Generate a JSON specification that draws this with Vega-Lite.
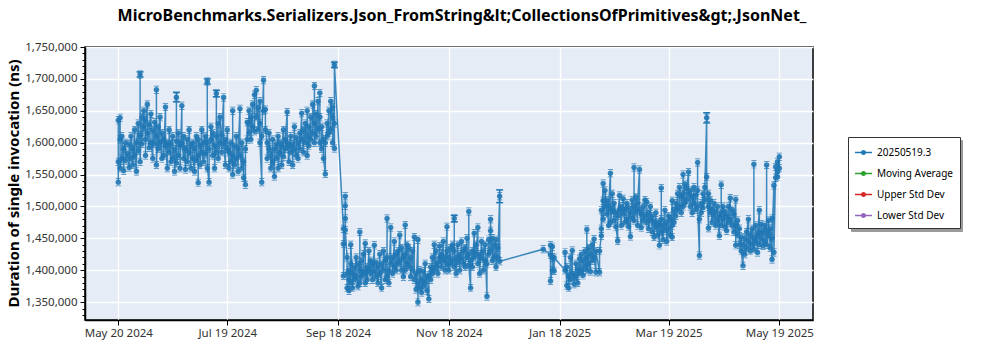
{
"$schema": "https://vega.github.io/schema/vega-lite/v6.json",
"width": 728, "height": 273,
"autosize": {"type": "none"},
"padding": {"left": 85, "top": 47, "right": 187, "bottom": 30},
"background": "white",
"title": {"text": "MicroBenchmarks.Serializers.Json_FromString&lt;CollectionsOfPrimitives&gt;.JsonNet_", "font": "Noto Sans", "fontSize": 16, "fontWeight": "bold", "color": "#000", "anchor": "middle", "dx": 13, "offset": 17},
"config": {"view": {"fill": "#e5ecf6", "stroke": "#000", "strokeWidth": 1.5}, "font": "Noto Sans"},
"data": {"values": [
{"t":"2024-05-20","v":1538000},{"t":"2024-05-20","v":1570000},{"t":"2024-05-20","v":1635000},
{"t":"2024-05-21","v":1605000},{"t":"2024-05-21","v":1639000},{"t":"2024-05-21","v":1560000},
{"t":"2024-05-22","v":1575000},{"t":"2024-05-22","v":1610000},
{"t":"2024-05-23","v":1556000},{"t":"2024-05-23","v":1590000},
{"t":"2024-05-24","v":1600000},{"t":"2024-05-24","v":1572000},
{"t":"2024-05-25","v":1583000},
{"t":"2024-05-26","v":1561000},{"t":"2024-05-26","v":1598000},
{"t":"2024-05-27","v":1575000},{"t":"2024-05-27","v":1610000},
{"t":"2024-05-28","v":1590000},{"t":"2024-05-28","v":1565000},
{"t":"2024-05-29","v":1620000},{"t":"2024-05-29","v":1580000},
{"t":"2024-05-30","v":1555000},{"t":"2024-05-30","v":1600000},
{"t":"2024-05-31","v":1630000},{"t":"2024-05-31","v":1587000},
{"t":"2024-06-01","v":1612000},{"t":"2024-06-01","v":1707000,"lo":1703000,"hi":1711000},{"t":"2024-06-01","v":1570000},
{"t":"2024-06-02","v":1640000},{"t":"2024-06-02","v":1598000},
{"t":"2024-06-03","v":1625000},{"t":"2024-06-03","v":1650000},
{"t":"2024-06-04","v":1605000},{"t":"2024-06-04","v":1580000},{"t":"2024-06-04","v":1635000},
{"t":"2024-06-05","v":1660000},{"t":"2024-06-05","v":1615000},
{"t":"2024-06-06","v":1592000},{"t":"2024-06-06","v":1628000},
{"t":"2024-06-07","v":1645000},{"t":"2024-06-07","v":1600000},
{"t":"2024-06-08","v":1575000},{"t":"2024-06-08","v":1620000},
{"t":"2024-06-09","v":1598000},{"t":"2024-06-09","v":1632000},
{"t":"2024-06-10","v":1610000},{"t":"2024-06-10","v":1683000},{"t":"2024-06-10","v":1565000},
{"t":"2024-06-11","v":1625000},{"t":"2024-06-11","v":1590000},
{"t":"2024-06-12","v":1640000},{"t":"2024-06-12","v":1600000},
{"t":"2024-06-13","v":1575000},{"t":"2024-06-13","v":1615000},
{"t":"2024-06-14","v":1605000},{"t":"2024-06-14","v":1580000},
{"t":"2024-06-15","v":1656000},{"t":"2024-06-15","v":1595000},
{"t":"2024-06-16","v":1560000},{"t":"2024-06-16","v":1600000},
{"t":"2024-06-17","v":1585000},{"t":"2024-06-17","v":1620000},
{"t":"2024-06-18","v":1570000},{"t":"2024-06-18","v":1598000},
{"t":"2024-06-19","v":1610000},{"t":"2024-06-19","v":1575000},
{"t":"2024-06-20","v":1590000},{"t":"2024-06-20","v":1555000},
{"t":"2024-06-21","v":1602000},{"t":"2024-06-21","v":1671000,"lo":1664000,"hi":1679000},{"t":"2024-06-21","v":1568000},
{"t":"2024-06-22","v":1580000},{"t":"2024-06-22","v":1615000},
{"t":"2024-06-23","v":1595000},{"t":"2024-06-23","v":1560000},
{"t":"2024-06-24","v":1658000},{"t":"2024-06-24","v":1600000},
{"t":"2024-06-25","v":1575000},{"t":"2024-06-25","v":1610000},
{"t":"2024-06-26","v":1558000},{"t":"2024-06-26","v":1590000},
{"t":"2024-06-27","v":1605000},{"t":"2024-06-27","v":1570000},
{"t":"2024-06-28","v":1585000},{"t":"2024-06-28","v":1620000},
{"t":"2024-06-29","v":1560000},{"t":"2024-06-29","v":1595000},
{"t":"2024-06-30","v":1600000},{"t":"2024-06-30","v":1575000},
{"t":"2024-07-01","v":1555000},{"t":"2024-07-01","v":1590000},
{"t":"2024-07-02","v":1610000},{"t":"2024-07-02","v":1572000},
{"t":"2024-07-03","v":1580000},{"t":"2024-07-03","v":1537000},{"t":"2024-07-03","v":1605000},
{"t":"2024-07-04","v":1595000},{"t":"2024-07-04","v":1565000},
{"t":"2024-07-05","v":1620000},{"t":"2024-07-05","v":1585000},
{"t":"2024-07-06","v":1570000},{"t":"2024-07-06","v":1600000},
{"t":"2024-07-07","v":1610000},{"t":"2024-07-07","v":1582000},
{"t":"2024-07-08","v":1600000},{"t":"2024-07-08","v":1696000,"lo":1692000,"hi":1700000},{"t":"2024-07-08","v":1560000},
{"t":"2024-07-09","v":1538000},{"t":"2024-07-09","v":1590000},
{"t":"2024-07-10","v":1605000},{"t":"2024-07-10","v":1625000},
{"t":"2024-07-11","v":1580000},{"t":"2024-07-11","v":1615000},
{"t":"2024-07-12","v":1595000},{"t":"2024-07-12","v":1560000},
{"t":"2024-07-13","v":1610000},{"t":"2024-07-13","v":1677000,"lo":1672000,"hi":1682000},{"t":"2024-07-13","v":1585000},
{"t":"2024-07-14","v":1630000},{"t":"2024-07-14","v":1575000},
{"t":"2024-07-15","v":1600000},{"t":"2024-07-15","v":1640000},
{"t":"2024-07-16","v":1585000},{"t":"2024-07-16","v":1612000},
{"t":"2024-07-17","v":1671000},{"t":"2024-07-17","v":1598000},
{"t":"2024-07-18","v":1565000},{"t":"2024-07-18","v":1605000},
{"t":"2024-07-19","v":1590000},{"t":"2024-07-19","v":1620000},
{"t":"2024-07-20","v":1560000},{"t":"2024-07-20","v":1585000},
{"t":"2024-07-21","v":1600000},{"t":"2024-07-21","v":1570000},
{"t":"2024-07-22","v":1580000},{"t":"2024-07-22","v":1650000},{"t":"2024-07-22","v":1550000},
{"t":"2024-07-23","v":1595000},{"t":"2024-07-23","v":1565000},
{"t":"2024-07-24","v":1575000},{"t":"2024-07-24","v":1610000},
{"t":"2024-07-25","v":1555000},{"t":"2024-07-25","v":1590000},
{"t":"2024-07-26","v":1653000},{"t":"2024-07-26","v":1580000},
{"t":"2024-07-27","v":1560000},{"t":"2024-07-27","v":1600000},
{"t":"2024-07-28","v":1570000},{"t":"2024-07-28","v":1545000},
{"t":"2024-07-29","v":1534000},{"t":"2024-07-29","v":1590000},
{"t":"2024-07-30","v":1605000},{"t":"2024-07-30","v":1632000},
{"t":"2024-07-31","v":1615000},{"t":"2024-07-31","v":1650000},{"t":"2024-07-31","v":1632000},
{"t":"2024-08-01","v":1640000},{"t":"2024-08-01","v":1605000},
{"t":"2024-08-02","v":1660000},{"t":"2024-08-02","v":1625000},
{"t":"2024-08-03","v":1618000},{"t":"2024-08-03","v":1675000},
{"t":"2024-08-04","v":1682000},{"t":"2024-08-04","v":1640000},
{"t":"2024-08-05","v":1655000},{"t":"2024-08-05","v":1620000},
{"t":"2024-08-06","v":1665000},{"t":"2024-08-06","v":1630000},{"t":"2024-08-06","v":1600000},
{"t":"2024-08-07","v":1538000},{"t":"2024-08-07","v":1610000},
{"t":"2024-08-08","v":1698000},{"t":"2024-08-08","v":1650000},
{"t":"2024-08-09","v":1652000},{"t":"2024-08-09","v":1620000},
{"t":"2024-08-10","v":1600000},{"t":"2024-08-10","v":1575000},
{"t":"2024-08-11","v":1590000},{"t":"2024-08-11","v":1615000},
{"t":"2024-08-12","v":1580000},{"t":"2024-08-12","v":1560000},
{"t":"2024-08-13","v":1605000},{"t":"2024-08-13","v":1570000},
{"t":"2024-08-14","v":1547000},{"t":"2024-08-14","v":1590000},
{"t":"2024-08-15","v":1598000},{"t":"2024-08-15","v":1575000},
{"t":"2024-08-16","v":1610000},{"t":"2024-08-16","v":1560000},
{"t":"2024-08-17","v":1585000},{"t":"2024-08-17","v":1600000},
{"t":"2024-08-18","v":1565000},{"t":"2024-08-18","v":1595000},
{"t":"2024-08-19","v":1620000},{"t":"2024-08-19","v":1578000},
{"t":"2024-08-20","v":1590000},{"t":"2024-08-20","v":1605000},
{"t":"2024-08-21","v":1648000},{"t":"2024-08-21","v":1600000},
{"t":"2024-08-22","v":1570000},{"t":"2024-08-22","v":1595000},
{"t":"2024-08-23","v":1610000},{"t":"2024-08-23","v":1585000},
{"t":"2024-08-24","v":1598000},{"t":"2024-08-24","v":1565000},
{"t":"2024-08-25","v":1625000},{"t":"2024-08-25","v":1590000},
{"t":"2024-08-26","v":1580000},{"t":"2024-08-26","v":1608000},
{"t":"2024-08-27","v":1600000},{"t":"2024-08-27","v":1575000},
{"t":"2024-08-28","v":1615000},{"t":"2024-08-28","v":1590000},
{"t":"2024-08-29","v":1646000},{"t":"2024-08-29","v":1605000},
{"t":"2024-08-30","v":1585000},{"t":"2024-08-30","v":1620000},
{"t":"2024-08-31","v":1600000},{"t":"2024-08-31","v":1630000},
{"t":"2024-09-01","v":1610000},{"t":"2024-09-01","v":1650000},{"t":"2024-09-01","v":1580000},
{"t":"2024-09-02","v":1625000},{"t":"2024-09-02","v":1595000},
{"t":"2024-09-03","v":1640000},{"t":"2024-09-03","v":1605000},
{"t":"2024-09-04","v":1615000},{"t":"2024-09-04","v":1660000},
{"t":"2024-09-05","v":1630000},{"t":"2024-09-05","v":1689000},{"t":"2024-09-05","v":1600000},
{"t":"2024-09-06","v":1645000},{"t":"2024-09-06","v":1610000},
{"t":"2024-09-07","v":1665000},{"t":"2024-09-07","v":1620000},
{"t":"2024-09-08","v":1640000},{"t":"2024-09-08","v":1678000},{"t":"2024-09-08","v":1600000},
{"t":"2024-09-09","v":1590000},{"t":"2024-09-09","v":1625000},
{"t":"2024-09-10","v":1605000},{"t":"2024-09-10","v":1575000},
{"t":"2024-09-11","v":1551000},{"t":"2024-09-11","v":1600000},
{"t":"2024-09-12","v":1630000},{"t":"2024-09-12","v":1610000},
{"t":"2024-09-13","v":1650000},{"t":"2024-09-13","v":1615000},
{"t":"2024-09-14","v":1620000},{"t":"2024-09-14","v":1665000},
{"t":"2024-09-15","v":1640000},{"t":"2024-09-15","v":1600000},{"t":"2024-09-15","v":1656000},
{"t":"2024-09-16","v":1591000},{"t":"2024-09-16","v":1630000},{"t":"2024-09-16","v":1722000,"lo":1718000,"hi":1726000},
{"t":"2024-09-21","v":1465000},{"t":"2024-09-21","v":1441000},{"t":"2024-09-21","v":1391000},
{"t":"2024-09-22","v":1481000},{"t":"2024-09-22","v":1516000},{"t":"2024-09-22","v":1501000},{"t":"2024-09-22","v":1463000},
{"t":"2024-09-23","v":1420000},{"t":"2024-09-23","v":1395000},{"t":"2024-09-23","v":1372000},
{"t":"2024-09-24","v":1368000},{"t":"2024-09-24","v":1400000},{"t":"2024-09-24","v":1385000},
{"t":"2024-09-25","v":1410000},{"t":"2024-09-25","v":1380000},{"t":"2024-09-25","v":1440000},
{"t":"2024-09-26","v":1395000},{"t":"2024-09-26","v":1372000},
{"t":"2024-09-27","v":1405000},{"t":"2024-09-27","v":1385000},
{"t":"2024-09-28","v":1420000},{"t":"2024-09-28","v":1390000},
{"t":"2024-09-29","v":1375000},{"t":"2024-09-29","v":1410000},
{"t":"2024-09-30","v":1400000},{"t":"2024-09-30","v":1460000},{"t":"2024-09-30","v":1380000},
{"t":"2024-10-01","v":1415000},{"t":"2024-10-01","v":1390000},
{"t":"2024-10-02","v":1398000},{"t":"2024-10-02","v":1425000},
{"t":"2024-10-03","v":1442000},{"t":"2024-10-03","v":1395000},{"t":"2024-10-03","v":1380000},
{"t":"2024-10-04","v":1405000},{"t":"2024-10-04","v":1385000},
{"t":"2024-10-05","v":1430000},{"t":"2024-10-05","v":1400000},
{"t":"2024-10-06","v":1415000},{"t":"2024-10-06","v":1395000},
{"t":"2024-10-07","v":1410000},{"t":"2024-10-07","v":1385000},
{"t":"2024-10-08","v":1439000},{"t":"2024-10-08","v":1398000},
{"t":"2024-10-09","v":1390000},{"t":"2024-10-09","v":1412000},
{"t":"2024-10-10","v":1405000},{"t":"2024-10-10","v":1380000},
{"t":"2024-10-11","v":1425000},{"t":"2024-10-11","v":1395000},
{"t":"2024-10-12","v":1372000},{"t":"2024-10-12","v":1410000},
{"t":"2024-10-13","v":1400000},{"t":"2024-10-13","v":1430000},
{"t":"2024-10-14","v":1415000},{"t":"2024-10-14","v":1385000},
{"t":"2024-10-15","v":1420000},{"t":"2024-10-15","v":1481000},{"t":"2024-10-15","v":1390000},
{"t":"2024-10-16","v":1400000},{"t":"2024-10-16","v":1380000},
{"t":"2024-10-17","v":1467000},{"t":"2024-10-17","v":1410000},
{"t":"2024-10-18","v":1420000},{"t":"2024-10-18","v":1395000},
{"t":"2024-10-19","v":1445000},{"t":"2024-10-19","v":1405000},
{"t":"2024-10-20","v":1425000},{"t":"2024-10-20","v":1400000},
{"t":"2024-10-21","v":1430000},{"t":"2024-10-21","v":1410000},
{"t":"2024-10-22","v":1455000},{"t":"2024-10-22","v":1415000},
{"t":"2024-10-23","v":1400000},{"t":"2024-10-23","v":1435000},
{"t":"2024-10-24","v":1420000},{"t":"2024-10-24","v":1390000},
{"t":"2024-10-25","v":1425000},{"t":"2024-10-25","v":1471000},{"t":"2024-10-25","v":1400000},
{"t":"2024-10-26","v":1440000},{"t":"2024-10-26","v":1410000},
{"t":"2024-10-27","v":1435000},{"t":"2024-10-27","v":1405000},
{"t":"2024-10-28","v":1420000},{"t":"2024-10-28","v":1390000},
{"t":"2024-10-29","v":1430000},{"t":"2024-10-29","v":1400000},
{"t":"2024-10-30","v":1452000},{"t":"2024-10-30","v":1385000},
{"t":"2024-10-31","v":1395000},{"t":"2024-10-31","v":1370000},
{"t":"2024-11-01","v":1448000},{"t":"2024-11-01","v":1350000},{"t":"2024-11-01","v":1380000},
{"t":"2024-11-02","v":1372000},{"t":"2024-11-02","v":1400000},
{"t":"2024-11-03","v":1385000},{"t":"2024-11-03","v":1365000},
{"t":"2024-11-04","v":1398000},{"t":"2024-11-04","v":1375000},
{"t":"2024-11-05","v":1410000},{"t":"2024-11-05","v":1380000},
{"t":"2024-11-06","v":1390000},{"t":"2024-11-06","v":1368000},
{"t":"2024-11-07","v":1355000},{"t":"2024-11-07","v":1392000},
{"t":"2024-11-08","v":1405000},{"t":"2024-11-08","v":1385000},
{"t":"2024-11-09","v":1420000},{"t":"2024-11-09","v":1395000},
{"t":"2024-11-10","v":1440000},{"t":"2024-11-10","v":1400000},
{"t":"2024-11-11","v":1430000},{"t":"2024-11-11","v":1405000},
{"t":"2024-11-12","v":1412000},{"t":"2024-11-12","v":1395000},
{"t":"2024-11-13","v":1438000},{"t":"2024-11-13","v":1420000},
{"t":"2024-11-14","v":1405000},{"t":"2024-11-14","v":1425000},
{"t":"2024-11-15","v":1445000},{"t":"2024-11-15","v":1415000},
{"t":"2024-11-16","v":1420000},{"t":"2024-11-16","v":1400000},
{"t":"2024-11-17","v":1468000},{"t":"2024-11-17","v":1430000},{"t":"2024-11-17","v":1410000},
{"t":"2024-11-18","v":1400000},{"t":"2024-11-18","v":1420000},
{"t":"2024-11-19","v":1435000},{"t":"2024-11-19","v":1410000},
{"t":"2024-11-20","v":1415000},{"t":"2024-11-20","v":1440000},
{"t":"2024-11-21","v":1430000},{"t":"2024-11-21","v":1481000,"lo":1476000,"hi":1486000},{"t":"2024-11-21","v":1405000},
{"t":"2024-11-22","v":1420000},{"t":"2024-11-22","v":1395000},
{"t":"2024-11-23","v":1440000},{"t":"2024-11-23","v":1412000},
{"t":"2024-11-24","v":1425000},{"t":"2024-11-24","v":1400000},
{"t":"2024-11-25","v":1445000},{"t":"2024-11-25","v":1418000},
{"t":"2024-11-26","v":1410000},{"t":"2024-11-26","v":1430000},
{"t":"2024-11-27","v":1435000},{"t":"2024-11-27","v":1405000},
{"t":"2024-11-28","v":1450000},{"t":"2024-11-28","v":1420000},
{"t":"2024-11-29","v":1425000},{"t":"2024-11-29","v":1492000},{"t":"2024-11-29","v":1408000},
{"t":"2024-11-30","v":1372000},{"t":"2024-11-30","v":1415000},
{"t":"2024-12-01","v":1430000},{"t":"2024-12-01","v":1405000},
{"t":"2024-12-02","v":1458000},{"t":"2024-12-02","v":1420000},
{"t":"2024-12-03","v":1440000},{"t":"2024-12-03","v":1425000},
{"t":"2024-12-04","v":1467000},{"t":"2024-12-04","v":1410000},
{"t":"2024-12-05","v":1425000},{"t":"2024-12-05","v":1395000},
{"t":"2024-12-06","v":1445000},{"t":"2024-12-06","v":1418000},
{"t":"2024-12-07","v":1430000},{"t":"2024-12-07","v":1400000},
{"t":"2024-12-08","v":1415000},{"t":"2024-12-08","v":1440000},
{"t":"2024-12-09","v":1359000},{"t":"2024-12-09","v":1410000},
{"t":"2024-12-10","v":1448000},{"t":"2024-12-10","v":1425000},
{"t":"2024-12-11","v":1462000},{"t":"2024-12-11","v":1480000},{"t":"2024-12-11","v":1430000},
{"t":"2024-12-12","v":1450000},{"t":"2024-12-12","v":1415000},
{"t":"2024-12-13","v":1440000},{"t":"2024-12-13","v":1420000},
{"t":"2024-12-14","v":1448000},{"t":"2024-12-14","v":1405000},
{"t":"2024-12-15","v":1435000},{"t":"2024-12-15","v":1420000},
{"t":"2024-12-16","v":1516000,"lo":1506000,"hi":1526000},{"t":"2024-12-16","v":1414000},
{"t":"2025-01-09","v":1433000},
{"t":"2025-01-13","v":1424000},{"t":"2025-01-13","v":1439000},{"t":"2025-01-13","v":1383000},
{"t":"2025-01-14","v":1400000},{"t":"2025-01-14","v":1437000},{"t":"2025-01-14","v":1420000},
{"t":"2025-01-15","v":1399000},{"t":"2025-01-15","v":1420000},
{"t":"2025-01-21","v":1400000},{"t":"2025-01-21","v":1428000},
{"t":"2025-01-22","v":1376000},{"t":"2025-01-22","v":1405000},
{"t":"2025-01-23","v":1390000},{"t":"2025-01-23","v":1372000},
{"t":"2025-01-24","v":1420000},{"t":"2025-01-24","v":1385000},
{"t":"2025-01-25","v":1431000},{"t":"2025-01-25","v":1395000},
{"t":"2025-01-26","v":1389000},{"t":"2025-01-26","v":1378000},
{"t":"2025-01-27","v":1410000},{"t":"2025-01-27","v":1392000},
{"t":"2025-01-28","v":1380000},{"t":"2025-01-28","v":1402000},
{"t":"2025-01-29","v":1418000},{"t":"2025-01-29","v":1395000},
{"t":"2025-01-30","v":1425000},{"t":"2025-01-30","v":1400000},
{"t":"2025-01-31","v":1392000},{"t":"2025-01-31","v":1415000},
{"t":"2025-02-01","v":1430000},{"t":"2025-02-01","v":1405000},
{"t":"2025-02-02","v":1420000},{"t":"2025-02-02","v":1464000},{"t":"2025-02-02","v":1400000},
{"t":"2025-02-03","v":1435000},{"t":"2025-02-03","v":1410000},
{"t":"2025-02-04","v":1398000},{"t":"2025-02-04","v":1425000},
{"t":"2025-02-05","v":1440000},{"t":"2025-02-05","v":1415000},
{"t":"2025-02-06","v":1449000},{"t":"2025-02-06","v":1420000},
{"t":"2025-02-07","v":1397000},{"t":"2025-02-07","v":1430000},
{"t":"2025-02-09","v":1397000},{"t":"2025-02-09","v":1430000},
{"t":"2025-02-10","v":1454000},{"t":"2025-02-10","v":1494000},{"t":"2025-02-10","v":1465000},
{"t":"2025-02-11","v":1536000},{"t":"2025-02-11","v":1509000},{"t":"2025-02-11","v":1480000},
{"t":"2025-02-12","v":1500000},{"t":"2025-02-12","v":1525000},
{"t":"2025-02-13","v":1488000},{"t":"2025-02-13","v":1510000},
{"t":"2025-02-14","v":1470000},{"t":"2025-02-14","v":1502000},
{"t":"2025-02-15","v":1552000},{"t":"2025-02-15","v":1495000},{"t":"2025-02-15","v":1475000},
{"t":"2025-02-16","v":1494000},{"t":"2025-02-16","v":1520000},
{"t":"2025-02-17","v":1478000},{"t":"2025-02-17","v":1505000},
{"t":"2025-02-18","v":1490000},{"t":"2025-02-18","v":1468000},
{"t":"2025-02-19","v":1446000},{"t":"2025-02-19","v":1485000},
{"t":"2025-02-20","v":1517000},{"t":"2025-02-20","v":1495000},
{"t":"2025-02-21","v":1470000},{"t":"2025-02-21","v":1500000},
{"t":"2025-02-22","v":1488000},{"t":"2025-02-22","v":1512000},
{"t":"2025-02-23","v":1475000},{"t":"2025-02-23","v":1495000},
{"t":"2025-02-24","v":1505000},{"t":"2025-02-24","v":1480000},
{"t":"2025-02-25","v":1468000},{"t":"2025-02-25","v":1498000},
{"t":"2025-02-26","v":1453000},{"t":"2025-02-26","v":1490000},
{"t":"2025-02-27","v":1510000},{"t":"2025-02-27","v":1482000},
{"t":"2025-02-28","v":1500000},{"t":"2025-02-28","v":1561000},{"t":"2025-02-28","v":1478000},
{"t":"2025-03-01","v":1492000},{"t":"2025-03-01","v":1515000},
{"t":"2025-03-02","v":1470000},{"t":"2025-03-02","v":1505000},
{"t":"2025-03-03","v":1558000},{"t":"2025-03-03","v":1495000},
{"t":"2025-03-04","v":1467000},{"t":"2025-03-04","v":1488000},
{"t":"2025-03-05","v":1500000},{"t":"2025-03-05","v":1478000},
{"t":"2025-03-06","v":1485000},{"t":"2025-03-06","v":1510000},
{"t":"2025-03-07","v":1507000},{"t":"2025-03-07","v":1475000},
{"t":"2025-03-08","v":1490000},{"t":"2025-03-08","v":1465000},
{"t":"2025-03-09","v":1480000},{"t":"2025-03-09","v":1500000},
{"t":"2025-03-10","v":1460000},{"t":"2025-03-10","v":1485000},
{"t":"2025-03-11","v":1475000},{"t":"2025-03-11","v":1452000},
{"t":"2025-03-12","v":1490000},{"t":"2025-03-12","v":1468000},
{"t":"2025-03-13","v":1455000},{"t":"2025-03-13","v":1475000},
{"t":"2025-03-14","v":1439000},{"t":"2025-03-14","v":1470000},
{"t":"2025-03-15","v":1480000},{"t":"2025-03-15","v":1529000},{"t":"2025-03-15","v":1460000},
{"t":"2025-03-16","v":1448000},{"t":"2025-03-16","v":1470000},
{"t":"2025-03-17","v":1494000},{"t":"2025-03-17","v":1462000},
{"t":"2025-03-18","v":1475000},{"t":"2025-03-18","v":1445000},
{"t":"2025-03-19","v":1465000},{"t":"2025-03-19","v":1485000},
{"t":"2025-03-20","v":1480000},{"t":"2025-03-20","v":1455000},
{"t":"2025-03-21","v":1509000},{"t":"2025-03-21","v":1452000},{"t":"2025-03-21","v":1470000},
{"t":"2025-03-22","v":1495000},{"t":"2025-03-22","v":1475000},
{"t":"2025-03-23","v":1505000},{"t":"2025-03-23","v":1485000},
{"t":"2025-03-24","v":1520000},{"t":"2025-03-24","v":1495000},
{"t":"2025-03-25","v":1500000},{"t":"2025-03-25","v":1530000},
{"t":"2025-03-26","v":1515000},{"t":"2025-03-26","v":1490000},
{"t":"2025-03-27","v":1520000},{"t":"2025-03-27","v":1550000},{"t":"2025-03-27","v":1500000},
{"t":"2025-03-28","v":1535000},{"t":"2025-03-28","v":1505000},
{"t":"2025-03-29","v":1510000},{"t":"2025-03-29","v":1528000},
{"t":"2025-03-30","v":1554000},{"t":"2025-03-30","v":1520000},
{"t":"2025-03-31","v":1500000},{"t":"2025-03-31","v":1525000},
{"t":"2025-04-01","v":1515000},{"t":"2025-04-01","v":1490000},
{"t":"2025-04-02","v":1530000},{"t":"2025-04-02","v":1505000},
{"t":"2025-04-03","v":1495000},{"t":"2025-04-03","v":1518000},
{"t":"2025-04-04","v":1525000},{"t":"2025-04-04","v":1569000},{"t":"2025-04-04","v":1500000},
{"t":"2025-04-05","v":1423000},{"t":"2025-04-05","v":1480000},
{"t":"2025-04-06","v":1505000},{"t":"2025-04-06","v":1490000},
{"t":"2025-04-07","v":1520000},{"t":"2025-04-07","v":1498000},
{"t":"2025-04-08","v":1510000},{"t":"2025-04-08","v":1530000},
{"t":"2025-04-09","v":1639000,"lo":1631000,"hi":1647000},{"t":"2025-04-09","v":1546000},
{"t":"2025-04-10","v":1466000},{"t":"2025-04-10","v":1500000},{"t":"2025-04-10","v":1520000},
{"t":"2025-04-11","v":1490000},{"t":"2025-04-11","v":1510000},
{"t":"2025-04-12","v":1475000},{"t":"2025-04-12","v":1495000},
{"t":"2025-04-13","v":1505000},{"t":"2025-04-13","v":1485000},
{"t":"2025-04-14","v":1470000},{"t":"2025-04-14","v":1492000},
{"t":"2025-04-15","v":1500000},{"t":"2025-04-15","v":1478000},
{"t":"2025-04-16","v":1454000},{"t":"2025-04-16","v":1485000},
{"t":"2025-04-17","v":1490000},{"t":"2025-04-17","v":1534000},{"t":"2025-04-17","v":1470000},
{"t":"2025-04-18","v":1480000},{"t":"2025-04-18","v":1500000},
{"t":"2025-04-19","v":1468000},{"t":"2025-04-19","v":1492000},
{"t":"2025-04-20","v":1485000},{"t":"2025-04-20","v":1462000},
{"t":"2025-04-21","v":1500000},{"t":"2025-04-21","v":1475000},
{"t":"2025-04-22","v":1513000},{"t":"2025-04-22","v":1480000},
{"t":"2025-04-23","v":1470000},{"t":"2025-04-23","v":1495000},
{"t":"2025-04-24","v":1488000},{"t":"2025-04-24","v":1460000},
{"t":"2025-04-25","v":1511000},{"t":"2025-04-25","v":1439000},{"t":"2025-04-25","v":1470000},
{"t":"2025-04-26","v":1455000},{"t":"2025-04-26","v":1478000},
{"t":"2025-04-27","v":1465000},{"t":"2025-04-27","v":1440000},
{"t":"2025-04-28","v":1452000},{"t":"2025-04-28","v":1430000},
{"t":"2025-04-29","v":1407000},{"t":"2025-04-29","v":1440000},
{"t":"2025-04-30","v":1450000},{"t":"2025-04-30","v":1425000},
{"t":"2025-05-01","v":1435000},{"t":"2025-05-01","v":1460000},
{"t":"2025-05-02","v":1480000},{"t":"2025-05-02","v":1445000},
{"t":"2025-05-03","v":1430000},{"t":"2025-05-03","v":1455000},
{"t":"2025-05-04","v":1465000},{"t":"2025-05-04","v":1440000},
{"t":"2025-05-05","v":1450000},{"t":"2025-05-05","v":1566000},{"t":"2025-05-05","v":1433000},
{"t":"2025-05-06","v":1445000},{"t":"2025-05-06","v":1470000},
{"t":"2025-05-07","v":1428000},{"t":"2025-05-07","v":1455000},
{"t":"2025-05-08","v":1494000},{"t":"2025-05-08","v":1460000},{"t":"2025-05-08","v":1440000},
{"t":"2025-05-09","v":1450000},{"t":"2025-05-09","v":1472000},
{"t":"2025-05-10","v":1438000},{"t":"2025-05-10","v":1460000},
{"t":"2025-05-11","v":1470000},{"t":"2025-05-11","v":1445000},
{"t":"2025-05-12","v":1462000},{"t":"2025-05-12","v":1565000},{"t":"2025-05-12","v":1440000},
{"t":"2025-05-13","v":1455000},{"t":"2025-05-13","v":1478000},
{"t":"2025-05-14","v":1435000},{"t":"2025-05-14","v":1465000},
{"t":"2025-05-15","v":1417000},{"t":"2025-05-15","v":1481000},{"t":"2025-05-15","v":1450000},
{"t":"2025-05-16","v":1533000},{"t":"2025-05-16","v":1428000},
{"t":"2025-05-17","v":1562000},{"t":"2025-05-17","v":1545000},
{"t":"2025-05-18","v":1546000},{"t":"2025-05-18","v":1570000},{"t":"2025-05-18","v":1555000},
{"t":"2025-05-19","v":1578000},{"t":"2025-05-19","v":1560000}
]},
"encoding": {
  "x": {"field": "t", "type": "temporal",
    "scale": {"type": "utc", "domain": [{"year": 2024, "month": 5, "date": 1, "hours": 16, "utc": true}, {"year": 2025, "month": 6, "date": 6, "hours": 13, "utc": true}]},
    "axis": {"title": null, "labelExpr": "utcFormat(datum.value, '%b %d %Y')",
      "values": [{"year": 2024, "month": 5, "date": 20, "utc": true}, {"year": 2024, "month": 7, "date": 19, "utc": true}, {"year": 2024, "month": 9, "date": 18, "utc": true}, {"year": 2024, "month": 11, "date": 18, "utc": true}, {"year": 2025, "month": 1, "date": 18, "utc": true}, {"year": 2025, "month": 3, "date": 19, "utc": true}, {"year": 2025, "month": 5, "date": 19, "utc": true}],
      "grid": true, "gridColor": "#ffffff", "gridWidth": 1.3, "domainColor": "#000", "domainWidth": 1.5, "tickColor": "#000", "tickSize": 5, "labelFontSize": 11.5, "labelColor": "#333", "labelPadding": 2, "labelOverlap": false, "labelFont": "Noto Sans"}},
  "y": {"field": "v", "type": "quantitative",
    "scale": {"domain": [1322000, 1750000], "nice": false, "zero": false},
    "axis": {"title": "Duration of single invocation (ns)", "titleFontSize": 15, "titleFontWeight": "bold", "titleColor": "#000", "titleFont": "Noto Sans", "titleAngle": -90, "titleX": -72, "titleY": 136, "titleAlign": "center", "titleBaseline": "middle",
      "values": [1330000,1340000,1350000,1360000,1370000,1380000,1390000,1400000,1410000,1420000,1430000,1440000,1450000,1460000,1470000,1480000,1490000,1500000,1510000,1520000,1530000,1540000,1550000,1560000,1570000,1580000,1590000,1600000,1610000,1620000,1630000,1640000,1650000,1660000,1670000,1680000,1690000,1700000,1710000,1720000,1730000,1740000,1750000],
      "labelExpr": "datum.value % 50000 === 0 ? format(datum.value, ',') : ''",
      "grid": true, "gridColor": "#ffffff", "gridWidth": 1.3,
      "gridOpacity": {"condition": {"test": "datum.value % 50000 === 0", "value": 1}, "value": 0},
      "tickSize": {"condition": {"test": "datum.value % 50000 === 0", "value": 5}, "value": 3},
      "tickColor": "#000", "domainColor": "#000", "domainWidth": 1.5, "labelFontSize": 11.5, "labelColor": "#333", "labelPadding": 3, "labelOverlap": false, "labelFont": "Noto Sans"}}
},
"layer": [
  {"transform": [{"filter": "datum.v > 1720000"}],
   "mark": {"type": "point", "opacity": 0},
   "encoding": {"color": {"datum": "Lower Std Dev", "type": "nominal",
     "scale": {"domain": ["Lower Std Dev", "Upper Std Dev", "Moving Average", "20250519.3"], "range": ["#9a9a9a", "#9a9a9a", "#9a9a9a", "#9a9a9a"]},
     "legend": {"title": null, "orient": "none", "legendX": 766, "legendY": 93, "strokeColor": "#9a9a9a", "fillColor": "#9a9a9a", "padding": 7,
       "symbolType": "M-1,-0.08H1V0.08H-1Z", "symbolSize": 289, "symbolStrokeWidth": 0, "symbolOpacity": 0,
       "labelExpr": "''", "labelFontSize": 10, "labelColor": "#9a9a9a", "labelOpacity": 0, "labelFont": "Noto Sans", "rowPadding": 7, "labelOffset": 80}}}},
  {"mark": {"type": "line", "color": "#1f77b4", "strokeWidth": 1.5, "opacity": 0.85}},
  {"transform": [{"filter": "isValid(datum.lo)"}],
   "mark": {"type": "rule", "color": "#1f77b4", "strokeWidth": 1.5},
   "encoding": {"y": {"field": "lo", "type": "quantitative", "title": "Duration of single invocation (ns)"}, "y2": {"field": "hi"}}},
  {"transform": [{"filter": "isValid(datum.lo)"}],
   "mark": {"type": "tick", "orient": "horizontal", "color": "#1f77b4", "size": 7, "thickness": 1.5, "opacity": 1},
   "encoding": {"y": {"field": "lo", "type": "quantitative", "title": "Duration of single invocation (ns)"}}},
  {"transform": [{"filter": "isValid(datum.hi)"}],
   "mark": {"type": "tick", "orient": "horizontal", "color": "#1f77b4", "size": 7, "thickness": 1.5, "opacity": 1},
   "encoding": {"y": {"field": "hi", "type": "quantitative", "title": "Duration of single invocation (ns)"}}},
  {"mark": {"type": "point", "filled": true, "shape": "M0.7,0A0.7,0.7 0 1 1 -0.7,0A0.7,0.7 0 1 1 0.7,0Z M-0.65,-1H0.65V-0.82H-0.65Z M-0.65,0.82H0.65V1H-0.65Z", "size": 64, "opacity": 0.9},
   "encoding": {"fill": {"datum": "20250519.3", "type": "nominal",
     "scale": {"domain": ["20250519.3", "Moving Average", "Upper Std Dev", "Lower Std Dev"], "range": ["#1f77b4", "#2ca02c", "#d62728", "#9467bd"]},
     "legend": {"title": null, "orient": "none", "legendX": 763, "legendY": 90, "strokeColor": "#333", "fillColor": "#ffffff", "padding": 7,
       "symbolType": "M-1,-0.08H1V0.08H-1Z M0.3,0A0.3,0.3 0 1 1 -0.3,0A0.3,0.3 0 1 1 0.3,0Z", "symbolSize": 289, "symbolStrokeWidth": 0, "symbolOpacity": 1,
       "labelFontSize": 10, "labelColor": "#000", "labelFont": "Noto Sans", "rowPadding": 7, "labelOffset": 5}}}}
]
}
